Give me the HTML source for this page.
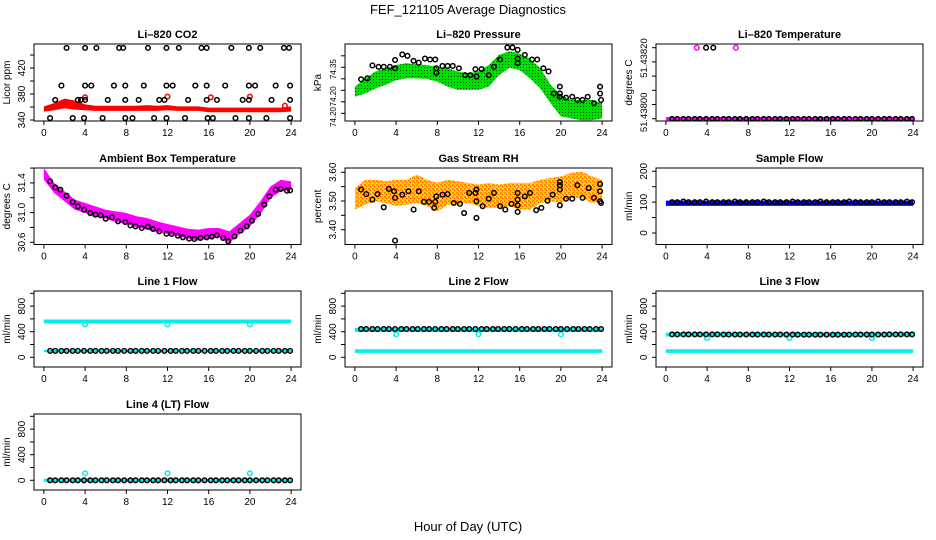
<!DOCTYPE html>
<html><head><meta charset="utf-8"><style>
html,body{margin:0;padding:0;background:#fff;}
svg{display:block;font-family:"Liberation Sans",sans-serif;}
</style></head><body>
<svg id="chart" width="936" height="540" viewBox="0 0 936 540" xmlns="http://www.w3.org/2000/svg">
<defs>
<pattern id="greenDots" width="3" height="3" patternUnits="userSpaceOnUse"><rect width="3" height="3" fill="#00e000"/><rect x="1" y="1" width="1" height="1" fill="#004400"/></pattern>
<pattern id="rhDots" width="4" height="4" patternUnits="userSpaceOnUse"><rect width="4" height="4" fill="#ffd000"/><rect x="0" y="0" width="2" height="2" fill="#ff8c00"/><rect x="2" y="2" width="1" height="1" fill="#ff3000"/></pattern>
</defs>
<text x="468" y="14" text-anchor="middle" font-size="13">FEF_121105  Average Diagnostics</text>
<text x="468" y="531" text-anchor="middle" font-size="13">Hour of Day (UTC)</text>
</svg>
<script>
// ---------- data ----------
const hours = [0,1,2,3,4,5,6,7,8,9,10,11,12,13,14,15,16,17,18,19,20,21,22,23,24];
const xTicks = [0,4,8,12,16,20,24];
const sampHours = [0.6,1.1,1.7,2.2,2.8,3.3,3.9,4.5,5.0,5.6,6.1,6.7,7.2,7.8,8.4,8.9,9.5,10.0,10.6,11.1,11.7,12.3,12.8,13.4,13.9,14.5,15.0,15.6,16.2,16.7,17.3,17.8,18.4,18.9,19.5,20.0,20.6,21.2,21.7,22.3,22.8,23.4,23.9];

// CO2
const co2Lo = [353,355,358,356,355,354,354,354,354,354,354,354,355,354,354,354,352,352,352,352,352,352,352,352,353];
const co2Hi = [361,366,373,370,364,362,362,362,362,362,363,362,363,361,361,361,359,359,359,359,359,359,359,359,361];
const co2RedX = [4,12,16.2,20,23.4];
const co2RedY = [375,376,375,376,362];
const co2BlkX = [2.2,4,5.1,7.3,7.7,10.1,11.9,13.1,15.3,15.8,18.2,19.9,21,23.3,23.8, 1.7,4,4.6,6.8,7.9,9.7,11.9,12.5,14.7,15.8,17.6,19.9,20.5,22.5,23.9, 1.1,3.3,3.6,4,6.2,7.9,9.2,11.2,11.7,14,15.8,16.8,19.3,19.9,22.1,23.9, 0.6,2.8,3.9,5.7,7.9,8.6,10.7,11.9,13.7,15.9,16.4,18.6,19.9,21.6,23.9];
const co2BlkY = [451,451,451,451,451,451,451,451,451,451,451,451,451,451,451, 393,393,393,393,393,393,393,393,393,393,393,393,393,393,393, 371,371,371,371,371,371,371,371,371,371,371,371,371,371,371,371, 343,343,343,343,343,343,343,343,343,343,343,343,343,343,343];

// Pressure
const presHi = [74.258,74.276,74.291,74.298,74.305,74.309,74.306,74.305,74.301,74.298,74.291,74.287,74.291,74.305,74.327,74.335,74.330,74.319,74.298,74.262,74.240,74.229,74.229,74.229,74.222];
const presLo = [74.236,74.243,74.254,74.262,74.272,74.276,74.276,74.275,74.269,74.258,74.251,74.251,74.251,74.258,74.283,74.299,74.294,74.276,74.254,74.222,74.193,74.189,74.185,74.185,74.189];
const presBlkX = [0.6,1.2,1.7,2.3,2.8,3.4,3.9,3.9,4.6,5.1,5.7,6.2,6.8,7.3,7.8,7.9,7.9,8.5,9,9.5,10.1,10.7,11.2,11.7,11.8,12.3,13,13.5,14.1,14.8,15.3,15.8,15.8,15.8,16.5,17.2,17.7,18.3,18.8,19.3,19.9,19.9,19.9,20.5,21.1,21.6,22.1,22.6,23.2,23.8,23.8,23.9];
const presBlkY = [74.274,74.276,74.304,74.301,74.301,74.301,74.316,74.298,74.328,74.325,74.314,74.310,74.319,74.317,74.317,74.298,74.288,74.303,74.303,74.303,74.298,74.283,74.283,74.296,74.280,74.296,74.283,74.301,74.317,74.343,74.343,74.338,74.319,74.309,74.327,74.317,74.317,74.298,74.291,74.243,74.258,74.243,74.236,74.234,74.236,74.229,74.229,74.236,74.222,74.258,74.243,74.229];

// Li-820 temperature (tick index units)
const tempMagX = [3.0,6.8];
const tempMagY = [5,5];
const tempBlkX = [3.9,4.6];
const tempBlkY = [5,5];

// Ambient box temperature
const ambHi = [31.601,31.399,31.286,31.174,31.129,31.084,31.039,31.017,30.994,30.950,30.927,30.882,30.846,30.815,30.783,30.770,30.792,30.792,30.748,30.860,30.972,31.152,31.354,31.443,31.421];
const ambLo = [31.443,31.264,31.152,31.039,30.994,30.950,30.918,30.873,30.846,30.801,30.770,30.739,30.712,30.680,30.649,30.622,30.649,30.667,30.590,30.712,30.815,30.972,31.197,31.286,31.309];
const ambBlkX = [0.6,1.1,1.6,2.2,2.8,3.3,3.9,4.5,5.0,5.5,6.0,6.6,7.2,7.9,8.4,8.9,9.5,10.1,10.6,11.2,11.9,12.4,13.0,13.5,14.1,14.6,15.2,15.8,16.3,16.8,17.4,17.9,18.5,19.1,19.7,20.2,20.8,21.4,21.9,22.5,23.0,23.6,23.9];
const ambBlkY = [31.421,31.340,31.309,31.228,31.143,31.084,31.039,30.994,30.972,30.963,30.918,30.936,30.882,30.873,30.828,30.815,30.792,30.810,30.779,30.748,30.716,30.712,30.689,30.667,30.649,30.644,30.658,30.667,30.676,30.694,30.658,30.613,30.680,30.757,30.815,30.891,30.981,31.107,31.219,31.309,31.318,31.295,31.300];

// Gas stream RH
const rhHi = [3.545,3.574,3.574,3.569,3.574,3.574,3.592,3.574,3.563,3.574,3.569,3.563,3.557,3.563,3.557,3.563,3.563,3.563,3.574,3.580,3.586,3.598,3.603,3.586,3.574];
const rhLo = [3.470,3.487,3.499,3.493,3.482,3.487,3.493,3.482,3.464,3.487,3.487,3.493,3.482,3.476,3.476,3.482,3.470,3.470,3.493,3.499,3.493,3.511,3.511,3.493,3.499];
const rhBlkX = [0.6,1.1,1.7,2.2,2.8,3.3,3.8,3.9,3.9,4.6,5.2,5.7,6.2,6.7,7.2,7.7,7.8,7.9,8.5,9,9.6,10.2,10.6,11.1,11.7,11.8,11.8,11.8,12.4,13,13.5,14.1,14.6,15.2,15.8,15.8,15.8,15.8,16.5,17,17.6,18.1,18.7,19.2,19.9,19.9,19.9,19.9,20.5,21.1,21.6,22.1,22.7,23.2,23.8,23.8,23.8,23.9];
const rhBlkY = [3.540,3.524,3.505,3.524,3.478,3.542,3.534,3.511,3.362,3.522,3.534,3.470,3.534,3.497,3.497,3.476,3.497,3.516,3.522,3.524,3.493,3.490,3.458,3.528,3.528,3.540,3.499,3.441,3.482,3.508,3.528,3.482,3.470,3.490,3.528,3.505,3.485,3.462,3.516,3.528,3.468,3.476,3.501,3.522,3.566,3.555,3.540,3.485,3.508,3.508,3.555,3.511,3.545,3.511,3.559,3.534,3.499,3.493];

// Flows
const sampLo = [88,88,88,88,88,88,88,88,88,88,88,88,88,88,88,88,88,88,88,88,88,88,88,88,88];
const sampHi = [105,105,105,105,105,105,105,105,105,105,105,105,105,105,105,105,105,105,105,105,105,105,105,105,105];
const sampBlk = [100,100,102,100,100,100,102,100,100,100,100,102,100,100,100,100,102,100,100,100,100,102,100,100,100,100,102,100,100,100,100,102,100,100,100,100,102,100,100,100,100,102,100];

const line1CyanHi = [590,590,590,590,590,590,590,590,590,590,590,590,590,590,590,590,590,590,590,590,590,590,590,590,590];
const line1CyanLo = [530,530,530,530,530,530,530,530,530,530,530,530,530,530,530,530,530,530,530,530,530,530,530,530,530];
const line1LowHi = [115,115,115,115,115,115,115,115,115,115,115,115,115,115,115,115,115,115,115,115,115,115,115,115,115];
const line1LowLo = [80,80,80,80,80,80,80,80,80,80,80,80,80,80,80,80,80,80,80,80,80,80,80,80,80];
const line1DipX = [4,12,20];
const line1DipY = [515,515,515];
const line1Blk = [100,100,100,100,100,100,100,100,100,100,100,100,100,100,100,100,100,100,100,100,100,100,100,100,100,100,100,100,100,100,100,100,100,100,100,100,100,100,100,100,100,100,100];

const line2CyanHi = [460,460,460,460,460,460,460,460,460,460,460,460,460,460,460,460,460,460,460,460,460,460,460,460,460];
const line2CyanLo = [395,395,395,395,395,395,395,395,395,395,395,395,395,395,395,395,395,395,395,395,395,395,395,395,395];
const line2LowHi = [125,125,125,125,125,125,125,125,125,125,125,125,125,125,125,125,125,125,125,125,125,125,125,125,125];
const line2LowLo = [70,70,70,70,70,70,70,70,70,70,70,70,70,70,70,70,70,70,70,70,70,70,70,70,70];
const line2DipX = [4,12,20];
const line2DipY = [360,360,360];
const line2Blk = [442,442,442,442,442,442,442,442,442,442,442,442,442,442,442,442,442,442,442,442,442,442,442,442,442,442,442,442,442,442,442,442,442,442,442,442,442,442,442,442,442,442,442];

const line3CyanHi = [385,385,385,385,385,385,385,385,385,385,385,385,385,385,385,385,385,385,385,385,385,385,385,385,385];
const line3CyanLo = [325,325,325,325,325,325,325,325,325,325,325,325,325,325,325,325,325,325,325,325,325,325,325,325,325];
const line3LowHi = [125,125,125,125,125,125,125,125,125,125,125,125,125,125,125,125,125,125,125,125,125,125,125,125,125];
const line3LowLo = [70,70,70,70,70,70,70,70,70,70,70,70,70,70,70,70,70,70,70,70,70,70,70,70,70];
const line3DipX = [4,12,20];
const line3DipY = [300,300,300];
const line3Blk = [358,358,358,358,358,358,358,358,358,356,356,356,356,356,356,356,356,356,356,356,356,356,354,354,354,354,354,354,354,354,354,354,356,356,356,356,356,356,358,358,358,358,358];

const line4CyanHi = [25,25,25,25,25,25,25,25,25,25,25,25,25,25,25,25,25,25,25,25,25,25,25,25,25];
const line4CyanLo = [-25,-25,-25,-25,-25,-25,-25,-25,-25,-25,-25,-25,-25,-25,-25,-25,-25,-25,-25,-25,-25,-25,-25,-25,-25];
const line4DipX = [4,12,20];
const line4DipY = [110,110,110];
const line4Blk = [0,0,0,0,0,0,0,0,0,0,0,0,0,0,0,0,0,0,0,0,0,0,0,0,0,0,0,0,0,0,0,0,0,0,0,0,0,0,0,0,0,0,0];

// ---------- drawing ----------
const svg = document.getElementById('chart');
const NS = 'http://www.w3.org/2000/svg';
function mk(tag, attrs, parent) {
  const e = document.createElementNS(NS, tag);
  for (const k in attrs) e.setAttribute(k, attrs[k]);
  (parent || svg).appendChild(e);
  return e;
}
const cols = [[34,301],[345,612],[656,923]];
const rows = [[44,121],[168,244.5],[291,367],[414,490]];

function panel(name, title, ylab, c, r, ylim, yticks, ylabels, ylabelPos, yfs) {
  const g = mk('g', {});
  
  
  const [x0,x1] = cols[c], [y0,y1] = rows[r];
  const sx = h => x0 + (h + 0.96) / 25.92 * (x1 - x0);
  const sy = v => y1 - (v - ylim[0]) / (ylim[1] - ylim[0]) * (y1 - y0);
  const t = mk('text', {x:(x0+x1)/2, y:y0-6, 'text-anchor':'middle', 'font-size':'11', 'font-weight':'bold'}, g);
  t.textContent = title;
  
  
  const yl = mk('text', {x:x0-24, y:(y0+y1)/2, 'text-anchor':'middle', 'font-size':'10', transform:`rotate(-90 ${x0-24} ${(y0+y1)/2})`}, g);
  yl.textContent = ylab;
  
  
  const box = mk('rect', {x:x0, y:y0, width:x1-x0, height:y1-y0, fill:'none', stroke:'#000', 'stroke-width':1}, g);
  
  
  xTicks.forEach(h => {
    mk('line', {x1:sx(h), x2:sx(h), y1:y1, y2:y1+4, stroke:'#000'}, g);
    const lt = mk('text', {x:sx(h), y:y1+15, 'text-anchor':'middle', 'font-size':'10'}, g);
    lt.textContent = h;
    
    
  });
  yticks.forEach(v => mk('line', {x1:x0-4, x2:x0, y1:sy(v), y2:sy(v), stroke:'#000'}, g));
  ylabels.forEach((s, i) => {
    const yy = sy(ylabelPos[i]);
    const lt = mk('text', {x:x0-9, y:yy, 'text-anchor':'middle', 'font-size':yfs||'10', transform:`rotate(-90 ${x0-9} ${yy})`}, g);
    lt.textContent = s;
    
    
  });
  const clip = 'clip' + name;
  const cp = mk('clipPath', {id:clip}, g);
  mk('rect', {x:x0, y:y0, width:x1-x0, height:y1-y0}, cp);
  const data = mk('g', {'clip-path':`url(#${clip})`}, g);
  return {sx, sy, g: data};
}
function band(p, xs, lo, hi, fill, name) {
  const pts = xs.map((h,i) => `${p.sx(h)},${p.sy(hi[i])}`).concat(xs.slice().reverse().map((h,j) => { const i = xs.length-1-j; return `${p.sx(h)},${p.sy(lo[i])}`; }));
  const e = mk('polygon', {points: pts.join(' '), fill: fill, stroke: 'none'}, p.g);
  
  
}
function pts(p, xs, ys, color, name, r) {
  xs.forEach((h,i) => {
    const e = mk('circle', {cx:p.sx(h), cy:p.sy(ys[i]), r:r||2.3, fill:'none', stroke:color, 'stroke-width':1.5}, p.g);
    
    
  });
}

// Panel 1: CO2
let p = panel('co2-panel','Li\u2013820 CO2','Licor ppm',0,0,[338.5,457],[340,360,380,400,420,440],['340','380','420'],[340,380,420]);
band(p, hours, co2Lo, co2Hi, '#ff0000', 'co2-band');
pts(p, co2RedX, co2RedY, '#ff0000', 'co2-red-point');
pts(p, co2BlkX, co2BlkY, '#000', 'co2-point');

// Panel 2: Pressure
p = panel('pressure-panel','Li\u2013820 Pressure','kPa',1,0,[74.1833,74.3507],[74.2,74.225,74.25,74.275,74.3,74.325],['74.20','74.20','74.35'],[74.192,74.237,74.296],'8');
band(p, hours, presLo, presHi, 'url(#greenDots)', 'pressure-band');
pts(p, presBlkX, presBlkY, '#000', 'pressure-point');

// Panel 3: Li-820 temperature
p = panel('licor-temp-panel','Li\u2013820 Temperature','degrees C',2,0,[-0.16,5.26],[0,1,2,3,4,5],['51.43800','51.43820'],[0.45,4.27],'9.5');
band(p, hours, hours.map(()=>-0.12), hours.map(()=>0.12), '#ff00ff', 'licor-temp-band');
pts(p, sampHours, sampHours.map(()=>0), '#000', 'licor-temp-point', 2.1);
pts(p, tempMagX, tempMagY, '#ff00ff', 'licor-temp-magenta-point');
pts(p, tempBlkX, tempBlkY, '#000', 'licor-temp-point');

// Panel 4: Ambient
p = panel('ambient-temp-panel','Ambient Box Temperature','degrees C',0,1,[30.570,31.601],[30.6,30.8,31.0,31.2,31.4,31.6],['30.6','31.0','31.4'],[30.6,31.0,31.4]);
band(p, hours, ambLo, ambHi, '#ff00ff', 'ambient-band');
pts(p, ambBlkX, ambBlkY, '#000', 'ambient-point');

// Panel 5: RH
p = panel('rh-panel','Gas Stream RH','percent',1,1,[3.3484,3.6150],[3.4,3.45,3.5,3.55,3.6],['3.40','3.50','3.60'],[3.4,3.5,3.6]);
band(p, hours, rhLo, rhHi, 'url(#rhDots)', 'rh-band');
pts(p, rhBlkX, rhBlkY, '#000', 'rh-point');

// Panel 6: Sample flow
p = panel('sample-flow-panel','Sample Flow','ml/min',2,1,[-37.3,210.6],[0,50,100,150,200],['0','100','200'],[0,100,200]);
band(p, hours, sampLo, sampHi, '#0000ff', 'sample-flow-band');
pts(p, sampHours, sampBlk, '#000', 'sample-flow-point');

const flowLim = [-151.6,1036], flowTicks = [0,200,400,600,800,1000];
// Line 1
p = panel('line1-flow-panel','Line 1 Flow','ml/min',0,2,flowLim,flowTicks,['0','400','800'],[0,400,800]);
band(p, hours, line1CyanLo, line1CyanHi, '#00eeee', 'line1-cyan-band');
band(p, hours, line1LowLo, line1LowHi, '#00eeee', 'line1-cyan-low-band');
pts(p, line1DipX, line1DipY, '#00eeee', 'line1-cyan-point');
pts(p, sampHours, line1Blk, '#000', 'line1-point');
// Line 2
p = panel('line2-flow-panel','Line 2 Flow','ml/min',1,2,flowLim,flowTicks,['0','400','800'],[0,400,800]);
band(p, hours, line2CyanLo, line2CyanHi, '#00eeee', 'line2-cyan-band');
band(p, hours, line2LowLo, line2LowHi, '#00eeee', 'line2-cyan-low-band');
pts(p, line2DipX, line2DipY, '#00eeee', 'line2-cyan-point');
pts(p, sampHours, line2Blk, '#000', 'line2-point');
// Line 3
p = panel('line3-flow-panel','Line 3 Flow','ml/min',2,2,flowLim,flowTicks,['0','400','800'],[0,400,800]);
band(p, hours, line3CyanLo, line3CyanHi, '#00eeee', 'line3-cyan-band');
band(p, hours, line3LowLo, line3LowHi, '#00eeee', 'line3-cyan-low-band');
pts(p, line3DipX, line3DipY, '#00eeee', 'line3-cyan-point');
pts(p, sampHours, line3Blk, '#000', 'line3-point');
// Line 4
p = panel('line4-flow-panel','Line 4 (LT) Flow','ml/min',0,3,flowLim,flowTicks,['0','400','800'],[0,400,800]);
band(p, hours, line4CyanLo, line4CyanHi, '#00eeee', 'line4-cyan-band');
pts(p, line4DipX, line4DipY, '#00eeee', 'line4-cyan-point');
pts(p, sampHours, line4Blk, '#000', 'line4-point');
</script>
</body></html>
